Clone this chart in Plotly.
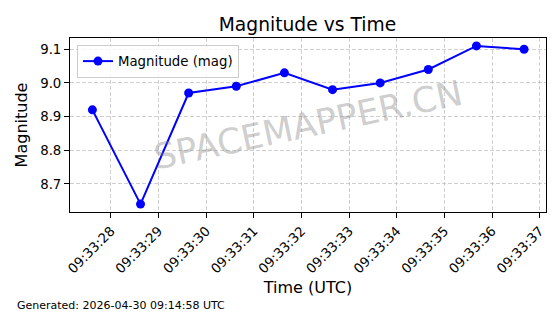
import plotly.graph_objects as go

times = ["2026-04-30 09:33:27.61", "2026-04-30 09:33:28.62", "2026-04-30 09:33:29.63",
         "2026-04-30 09:33:30.63", "2026-04-30 09:33:31.64", "2026-04-30 09:33:32.65",
         "2026-04-30 09:33:33.65", "2026-04-30 09:33:34.66", "2026-04-30 09:33:35.67",
         "2026-04-30 09:33:36.67"]
magnitudes = [8.92, 8.64, 8.97, 8.99, 9.03, 8.98, 9.00, 9.04, 9.11, 9.10]
series_name = "Magnitude (mag)"
title_text = "Magnitude vs Time"
x_title = "Time (UTC)"
y_title = "Magnitude"
footer_text = "Generated: 2026-04-30 09:14:58 UTC"
watermark_text = "SPACEMAPPER.CN"
y_ticks = [8.7, 8.8, 8.9, 9.0, 9.1]

FONT = "DejaVu Sans"

fig = go.Figure()
fig.add_trace(go.Scatter(
    x=times, y=magnitudes, mode="lines+markers", name=series_name,
    line=dict(color="#0000ff", width=2),
    marker=dict(color="#0000ff", size=9),
))

grid = "rgba(176,176,176,0.6)"
fig.update_layout(
    width=560, height=314,
    margin=dict(l=70, r=14, t=38, b=102),
    paper_bgcolor="white", plot_bgcolor="white",
    font=dict(family=FONT, color="black", size=13.3),
    title=dict(text=title_text, x=0.549, xanchor="center", y=0.922, yanchor="middle",
               yref="container", font=dict(size=18.7, family=FONT, color="black")),
    showlegend=True,
    legend=dict(x=0.0147, y=0.96, xanchor="left", yanchor="top",
                bgcolor="rgba(255,255,255,0.8)", bordercolor="#cccccc", borderwidth=1,
                font=dict(size=13.3, family=FONT)),
    xaxis=dict(
        type="date",
        range=["2026-04-30 09:33:27.14", "2026-04-30 09:33:37.13"],
        tick0="2026-04-30 09:33:28", dtick=1000, tickformat="%H:%M:%S",
        tickangle=-45, ticks="outside", ticklen=5, tickcolor="black",
        showline=True, linecolor="black", linewidth=1, mirror=True,
        showgrid=True, gridcolor=grid, griddash="4px,2px", gridwidth=1,
        zeroline=False,
        title=dict(text=x_title, font=dict(size=16, family=FONT), standoff=6),
        tickfont=dict(size=13.3, family=FONT),
    ),
    yaxis=dict(
        range=[8.6165, 9.1335],
        tickmode="array", tickvals=y_ticks, ticktext=[f"{v:.1f}" for v in y_ticks],
        ticks="outside", ticklen=5, tickcolor="black",
        showline=True, linecolor="black", linewidth=1, mirror=True,
        showgrid=True, gridcolor=grid, griddash="4px,2px", gridwidth=1,
        zeroline=False,
        title=dict(text=y_title, font=dict(size=16, family=FONT), standoff=8),
        tickfont=dict(size=13.3, family=FONT),
    ),
)

fig.add_annotation(
    text=watermark_text, xref="paper", yref="paper", x=0.5, y=0.5,
    xanchor="center", yanchor="middle", showarrow=False, textangle=-12,
    font=dict(size=35, family=FONT, color="rgba(128,128,128,0.4)"),
)
fig.add_annotation(
    text=footer_text, xref="paper", yref="paper",
    x=(15 - 70) / 476.0, y=-(305 - 212) / 174.0,
    xanchor="left", yanchor="middle", showarrow=False,
    font=dict(size=11, family=FONT, color="black"),
)

fig.write_html("out.html")
